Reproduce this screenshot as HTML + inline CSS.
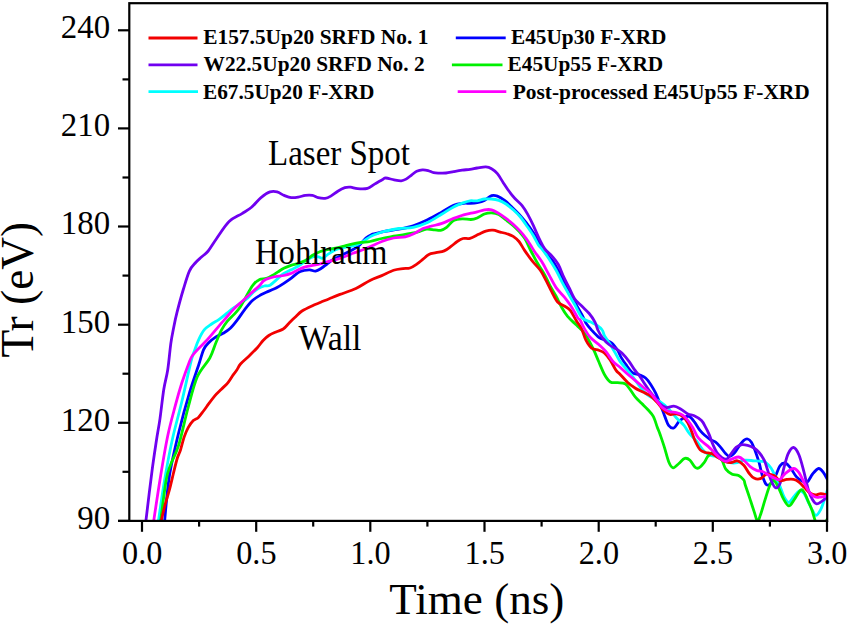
<!DOCTYPE html>
<html><head><meta charset="utf-8"><style>
html,body{margin:0;padding:0;background:#fff;}
body{width:849px;height:625px;overflow:hidden;}
svg{display:block;}
</style></head><body>
<svg width="849" height="625" viewBox="0 0 849 625">
<defs><clipPath id="c"><rect x="129.3" y="3.2" width="697.9" height="517.7"/></clipPath></defs>
<rect width="849" height="625" fill="#fff"/>
<g clip-path="url(#c)" fill="none" stroke-width="2.8" stroke-linejoin="round" stroke-linecap="round">
<path d="M163.0,536.0 C163.3,533.5 163.6,530.9 164.6,521.0 C165.6,511.1 167.0,491.3 169.3,476.6 C171.6,461.9 175.2,447.0 178.6,433.0 C182.0,419.0 186.2,403.8 189.6,392.4 C193.0,380.9 196.6,371.4 198.9,364.3 C201.2,357.2 202.0,353.2 203.6,349.6 C205.2,346.0 206.6,344.8 208.7,342.7 C210.8,340.6 213.5,338.5 215.9,336.9 C218.3,335.3 220.7,334.7 223.1,333.3 C225.5,331.9 227.9,330.6 230.3,328.3 C232.7,326.0 235.1,322.8 237.5,319.7 C239.9,316.6 242.3,312.7 244.7,309.6 C247.1,306.5 249.5,303.3 251.9,301.0 C254.3,298.7 256.7,297.3 259.1,295.9 C261.5,294.4 264.2,293.3 266.3,292.3 C268.4,291.3 270.3,290.6 272.0,289.8 C273.7,289.1 274.6,288.9 276.6,287.8 C278.6,286.7 281.4,285.0 283.8,283.4 C286.2,281.8 288.6,280.2 291.0,278.4 C293.4,276.6 296.0,273.9 298.2,272.6 C300.4,271.3 302.1,271.0 304.0,270.5 C305.9,270.0 307.9,269.7 309.8,269.8 C311.7,269.9 313.6,271.4 315.5,271.2 C317.4,270.9 319.4,269.5 321.3,268.3 C323.2,267.1 325.1,265.4 327.0,264.0 C328.9,262.6 330.4,261.1 332.8,259.7 C335.2,258.2 338.6,256.8 341.5,255.3 C344.4,253.9 347.2,252.6 350.1,251.0 C353.0,249.4 356.1,248.2 358.7,246.0 C361.3,243.8 363.7,239.9 365.9,238.0 C368.1,236.1 370.2,235.2 371.7,234.5 C373.2,233.8 372.9,234.2 375.0,233.7 C377.1,233.2 380.4,232.2 384.4,231.4 C388.4,230.7 394.0,230.1 398.8,229.2 C403.6,228.3 408.4,227.4 413.2,225.8 C418.0,224.2 422.8,222.1 427.6,219.8 C432.4,217.5 437.7,214.4 442.0,212.0 C446.3,209.6 450.0,206.8 453.6,205.4 C457.2,204.0 461.0,203.7 463.7,203.3 C466.4,203.0 467.8,203.4 470.0,203.3 C472.2,203.2 474.8,203.1 477.2,202.6 C479.6,202.1 482.0,201.6 484.4,200.4 C486.8,199.2 489.4,196.3 491.6,195.6 C493.8,194.9 495.2,195.3 497.4,196.1 C499.6,196.9 502.2,198.6 504.6,200.4 C507.0,202.2 509.4,204.6 511.8,206.9 C514.2,209.2 516.6,211.5 519.0,214.1 C521.4,216.7 523.8,219.6 526.2,222.7 C528.6,225.8 531.4,229.9 533.4,232.8 C535.4,235.7 536.2,236.9 538.1,240.0 C540.0,243.1 542.1,247.9 544.6,251.5 C547.1,255.1 550.8,258.2 553.2,261.6 C555.6,265.0 557.1,268.1 559.0,271.7 C560.9,275.3 562.9,279.3 564.8,283.2 C566.7,287.1 568.6,291.2 570.5,294.8 C572.4,298.4 574.4,301.5 576.3,304.8 C578.2,308.1 580.4,311.9 582.0,314.9 C583.6,317.9 584.3,320.4 585.9,322.9 C587.5,325.4 589.5,327.7 591.6,330.1 C593.8,332.5 596.4,335.6 598.8,337.3 C601.2,339.0 603.8,339.2 606.0,340.2 C608.2,341.1 609.9,341.3 611.8,343.0 C613.7,344.7 616.0,347.9 617.6,350.3 C619.2,352.7 619.8,355.1 621.3,357.6 C622.8,360.1 624.5,362.6 626.4,365.2 C628.3,367.8 630.7,371.3 632.8,372.9 C634.9,374.5 637.1,373.9 639.2,374.8 C641.3,375.7 643.7,376.4 645.6,378.0 C647.5,379.6 649.0,381.8 650.7,384.4 C652.4,387.0 654.1,389.8 655.8,393.4 C657.5,397.0 659.5,402.4 661.0,406.2 C662.5,410.0 663.5,413.2 664.8,416.4 C666.1,419.6 667.1,423.5 668.6,425.4 C670.1,427.3 672.1,428.6 673.8,428.0 C675.5,427.4 677.2,423.3 678.9,421.6 C680.6,419.9 682.3,418.6 684.0,417.7 C685.7,416.8 687.4,415.8 689.1,416.4 C690.8,417.0 692.4,419.2 694.2,421.6 C696.1,424.0 698.3,428.3 700.2,430.7 C702.1,433.1 703.7,434.3 705.4,435.8 C707.1,437.3 708.8,438.6 710.5,439.7 C712.2,440.8 713.9,440.9 715.6,442.2 C717.3,443.5 719.0,445.5 720.7,447.4 C722.4,449.3 724.3,452.3 725.8,453.8 C727.3,455.3 728.2,456.5 729.7,456.3 C731.2,456.1 733.1,454.4 734.8,452.5 C736.5,450.6 738.4,446.8 739.9,444.8 C741.4,442.8 742.5,441.3 743.8,440.3 C745.1,439.3 746.3,438.7 747.6,439.0 C748.9,439.3 750.1,440.2 751.4,442.2 C752.7,444.2 754.0,447.8 755.3,451.2 C756.6,454.6 757.9,458.6 759.1,462.7 C760.3,466.8 761.1,471.8 762.3,475.5 C763.5,479.2 765.0,483.4 766.5,484.7 C768.0,486.0 769.5,484.7 771.0,483.2 C772.5,481.7 774.1,478.5 775.6,475.6 C777.1,472.7 778.4,467.9 780.0,465.8 C781.6,463.7 783.6,462.7 785.4,463.1 C787.2,463.6 789.1,466.2 790.9,468.5 C792.7,470.8 794.5,474.6 796.3,476.7 C798.1,478.8 799.9,479.9 801.7,480.8 C803.5,481.7 805.4,483.2 807.2,482.1 C809.0,481.0 810.7,476.3 812.6,474.0 C814.5,471.7 816.9,468.7 818.7,468.5 C820.5,468.3 822.1,470.8 823.5,472.6 C824.9,474.4 826.7,478.3 827.3,479.4" stroke="#0000FF"/>
<path d="M156.1,536.0 C156.5,533.5 157.0,530.3 158.4,521.0 C159.8,511.7 162.3,493.6 164.6,480.0 C166.9,466.4 169.5,452.2 172.4,439.2 C175.3,426.2 178.7,414.8 181.8,401.8 C184.9,388.8 189.0,369.6 191.1,361.2 C193.2,352.8 193.1,354.9 194.3,351.3 C195.6,347.7 196.9,343.4 198.6,339.8 C200.3,336.2 202.2,332.3 204.4,329.7 C206.6,327.1 209.2,325.7 211.6,324.0 C214.0,322.3 216.4,321.4 218.8,319.7 C221.2,318.0 223.6,315.8 226.0,313.9 C228.4,312.0 230.8,310.0 233.2,308.2 C235.6,306.4 238.0,304.8 240.4,303.1 C242.8,301.4 245.4,299.9 247.6,298.1 C249.8,296.3 251.4,294.0 253.3,292.3 C255.2,290.6 257.2,289.1 259.1,288.0 C261.0,286.9 263.0,286.4 264.8,285.9 C266.6,285.4 267.8,286.4 270.0,285.2 C272.2,283.9 275.7,280.4 278.0,278.4 C280.3,276.4 281.6,274.8 283.8,273.4 C286.0,272.0 288.6,271.0 291.0,269.8 C293.4,268.6 295.8,267.6 298.2,266.2 C300.6,264.8 303.0,262.7 305.4,261.1 C307.8,259.5 310.4,257.5 312.6,256.8 C314.8,256.1 316.7,256.6 318.4,256.8 C320.1,257.0 321.0,258.7 322.7,258.2 C324.4,257.7 326.3,255.3 328.5,253.9 C330.7,252.5 333.1,250.7 335.7,249.6 C338.3,248.5 341.4,248.0 344.3,247.4 C347.2,246.8 350.1,246.8 353.0,246.0 C355.9,245.2 358.7,244.0 361.6,242.4 C364.5,240.8 368.1,237.9 370.3,236.6 C372.5,235.3 372.6,235.4 375.0,234.5 C377.4,233.6 380.4,232.4 384.4,231.4 C388.4,230.4 394.0,229.2 398.8,228.5 C403.6,227.8 408.4,228.3 413.2,227.3 C418.0,226.3 422.8,224.7 427.6,222.5 C432.4,220.3 437.7,216.6 442.0,214.0 C446.3,211.4 450.0,208.8 453.6,206.9 C457.2,205.0 461.0,203.6 463.7,202.6 C466.4,201.6 467.8,201.1 470.0,200.8 C472.2,200.5 474.8,201.1 477.2,200.8 C479.6,200.5 482.0,199.3 484.4,199.0 C486.8,198.7 489.2,198.8 491.6,199.0 C494.0,199.2 496.4,199.6 498.8,200.4 C501.2,201.2 503.6,202.4 506.0,204.0 C508.4,205.6 510.8,207.6 513.2,209.8 C515.6,212.0 518.0,214.1 520.4,217.0 C522.8,219.9 525.4,223.9 527.6,227.0 C529.8,230.1 531.6,232.7 533.4,235.7 C535.2,238.7 537.0,242.8 538.4,245.0 C539.8,247.2 540.0,246.3 541.7,248.6 C543.5,250.9 546.5,255.1 548.9,258.7 C551.3,262.3 553.9,266.4 556.1,270.3 C558.3,274.2 559.7,277.7 561.9,281.8 C564.1,285.9 567.0,291.0 569.1,294.8 C571.2,298.6 572.6,301.0 574.8,304.8 C576.9,308.6 579.4,314.9 582.0,317.8 C584.6,320.7 588.3,320.9 590.7,322.1 C593.1,323.3 594.6,323.7 596.5,325.0 C598.4,326.3 600.9,328.2 602.2,330.0 C603.6,331.8 603.2,333.5 604.6,335.9 C606.0,338.3 608.4,341.4 610.3,344.5 C612.2,347.6 614.5,351.8 616.1,354.6 C617.7,357.4 618.3,359.0 620.0,361.4 C621.7,363.8 624.3,366.5 626.4,369.1 C628.5,371.7 630.7,374.0 632.8,376.8 C634.9,379.6 637.1,382.9 639.2,385.7 C641.3,388.5 643.2,391.3 645.6,393.4 C648.0,395.5 650.7,397.0 653.3,398.5 C655.9,400.0 658.5,400.7 661.0,402.4 C663.5,404.1 666.1,406.2 668.6,408.8 C671.1,411.4 673.7,414.9 676.3,417.7 C678.9,420.5 681.9,422.8 684.0,425.4 C686.1,428.0 687.0,430.5 689.1,433.1 C691.2,435.7 694.1,438.2 696.4,441.0 C698.7,443.8 700.7,447.6 702.8,449.9 C704.9,452.2 707.1,453.9 709.2,455.0 C711.3,456.1 713.2,455.4 715.6,456.3 C718.0,457.2 720.9,459.1 723.3,460.2 C725.6,461.3 727.4,462.3 729.7,462.7 C732.1,463.1 734.9,463.1 737.4,462.7 C739.9,462.3 742.2,460.5 745.0,460.2 C747.8,459.9 751.2,460.6 754.0,460.8 C756.8,461.0 759.9,461.2 761.7,461.4 C763.5,461.6 763.5,460.8 765.0,461.9 C766.5,463.0 769.2,465.5 771.0,468.0 C772.8,470.5 774.1,474.1 775.6,477.1 C777.1,480.1 778.6,482.9 780.0,486.2 C781.4,489.5 782.6,494.3 784.1,497.0 C785.6,499.7 787.2,502.5 788.8,502.5 C790.4,502.5 791.9,498.9 793.6,497.0 C795.3,495.1 797.3,491.7 799.0,491.0 C800.7,490.3 802.2,491.1 803.8,493.0 C805.4,494.9 807.0,499.6 808.5,502.5 C810.0,505.4 811.4,508.6 812.6,510.7 C813.9,512.9 814.6,515.6 816.0,515.4 C817.4,515.2 819.3,512.1 820.8,509.3 C822.3,506.5 823.7,501.6 824.8,498.4 C825.9,495.2 826.9,491.6 827.3,490.3" stroke="#00FFFF"/>
<path d="M158.6,536.0 C158.9,533.5 159.3,530.3 160.6,521.0 C161.9,511.7 164.5,489.5 166.2,480.0 C167.9,470.5 168.7,470.0 170.8,464.2 C172.9,458.4 175.7,454.8 178.6,445.4 C181.5,436.0 184.9,419.4 188.0,408.0 C191.1,396.6 193.7,385.1 197.3,376.8 C200.9,368.5 206.7,363.7 209.8,358.0 C212.9,352.3 213.9,347.4 215.9,342.7 C217.9,338.0 219.8,333.3 221.7,329.7 C223.6,326.1 225.2,323.7 227.4,321.1 C229.6,318.5 232.4,316.3 234.6,313.9 C236.8,311.5 238.5,309.6 240.4,306.7 C242.3,303.8 244.2,300.0 246.1,296.7 C248.0,293.4 250.4,288.9 251.9,286.6 C253.4,284.3 254.1,283.7 255.0,282.7 C255.9,281.7 256.6,281.4 257.6,280.8 C258.6,280.2 259.3,279.5 260.8,279.1 C262.3,278.7 264.6,279.0 266.5,278.4 C268.4,277.8 270.4,276.6 272.3,275.5 C274.2,274.4 276.1,273.1 278.0,271.9 C279.9,270.7 281.6,269.4 283.8,268.3 C286.0,267.2 288.6,266.2 291.0,265.4 C293.4,264.6 295.8,264.1 298.2,263.3 C300.6,262.5 303.0,261.7 305.4,260.4 C307.8,259.1 310.2,256.8 312.6,255.3 C315.0,253.9 317.4,252.6 319.8,251.7 C322.2,250.8 324.4,250.2 327.0,249.6 C329.6,249.0 332.8,248.7 335.7,248.1 C338.6,247.5 341.4,246.7 344.3,246.0 C347.2,245.3 350.1,244.4 353.0,243.8 C355.9,243.2 358.8,242.8 361.6,242.4 C364.4,242.0 366.6,242.2 370.0,241.5 C373.4,240.8 377.9,239.4 381.8,238.5 C385.7,237.6 389.7,236.9 393.6,236.2 C397.5,235.5 401.4,235.1 405.3,234.4 C409.2,233.7 413.6,233.0 417.1,232.1 C420.6,231.2 423.6,229.5 426.5,229.1 C429.4,228.7 432.4,229.7 434.8,229.9 C437.2,230.1 438.7,230.7 440.7,230.3 C442.7,229.9 444.5,229.0 446.6,227.4 C448.8,225.8 451.0,222.0 453.6,220.6 C456.2,219.2 459.3,219.0 462.2,218.8 C465.1,218.6 468.4,219.6 470.9,219.5 C473.4,219.4 474.9,218.9 477.2,218.0 C479.4,217.1 482.0,214.9 484.4,214.0 C486.8,213.1 489.2,212.7 491.6,212.8 C494.0,212.9 496.4,213.3 498.8,214.5 C501.2,215.7 503.6,218.2 506.0,220.0 C508.4,221.8 511.0,223.7 513.2,225.6 C515.4,227.5 517.1,229.2 519.0,231.3 C520.9,233.5 522.9,235.5 524.8,238.5 C526.7,241.5 528.1,245.4 530.2,249.5 C532.3,253.6 535.0,258.8 537.4,263.0 C539.8,267.2 542.5,270.8 544.6,274.6 C546.8,278.5 548.4,282.5 550.3,286.1 C552.2,289.7 554.2,292.6 556.1,296.2 C558.0,299.8 560.0,304.3 561.9,307.7 C563.8,311.1 565.5,313.8 567.6,316.4 C569.8,319.0 573.2,322.0 574.8,323.6 C576.4,325.2 575.6,324.2 577.2,325.8 C578.8,327.4 582.2,330.1 584.4,333.0 C586.6,335.9 588.5,339.9 590.2,343.0 C591.9,346.1 593.1,348.6 594.5,351.7 C595.9,354.8 597.1,357.9 598.8,361.8 C600.5,365.7 602.7,371.4 604.6,374.8 C606.5,378.2 608.1,380.7 610.3,382.0 C612.5,383.3 615.1,382.4 617.6,382.7 C620.1,383.0 623.0,382.6 625.1,383.8 C627.2,385.0 628.5,387.4 630.2,389.6 C631.9,391.8 633.5,394.9 635.4,397.2 C637.3,399.5 639.7,401.5 641.8,403.6 C643.9,405.7 646.3,407.9 648.2,410.0 C650.1,412.1 651.8,413.6 653.3,416.4 C654.8,419.2 656.0,423.6 657.1,426.7 C658.2,429.8 659.0,431.2 660.2,434.7 C661.4,438.2 663.1,443.1 664.5,447.6 C665.9,452.2 667.4,458.6 668.8,462.0 C670.2,465.4 671.4,467.6 673.1,467.8 C674.8,468.1 677.0,465.1 678.9,463.5 C680.8,461.9 682.9,458.9 684.7,458.4 C686.6,457.8 688.3,458.7 690.0,460.2 C691.7,461.7 693.6,465.9 695.1,467.2 C696.6,468.5 697.5,468.6 699.0,467.8 C700.5,467.1 702.6,464.6 704.1,462.7 C705.6,460.8 706.4,458.0 707.9,456.3 C709.4,454.6 711.3,452.7 713.0,452.5 C714.7,452.3 716.7,453.7 718.2,455.0 C719.7,456.3 720.7,457.8 722.0,460.2 C723.3,462.6 724.1,466.8 725.8,469.1 C727.5,471.4 730.1,473.1 732.2,474.2 C734.3,475.3 736.7,474.5 738.6,475.5 C740.5,476.5 742.7,478.5 743.8,480.0 C744.9,481.5 744.2,481.6 745.2,484.7 C746.2,487.8 748.3,493.8 749.8,498.4 C751.3,503.0 753.0,508.3 754.3,512.1 C755.6,515.9 756.4,520.5 757.4,521.0 C758.4,521.5 759.1,518.6 760.4,515.1 C761.7,511.6 763.5,504.7 765.0,499.9 C766.5,495.1 768.1,489.5 769.5,486.2 C770.9,482.9 772.0,479.9 773.5,480.2 C775.0,480.5 777.0,484.8 778.6,487.8 C780.2,490.8 781.5,495.4 783.2,498.4 C784.9,501.4 787.0,505.6 788.8,505.9 C790.6,506.2 792.1,502.6 794.0,500.0 C795.9,497.4 798.7,491.6 800.4,490.3 C802.1,489.0 802.6,490.1 804.0,492.0 C805.4,493.9 807.1,498.9 808.5,502.0 C809.9,505.1 811.0,507.3 812.1,510.5 C813.2,513.7 814.3,518.2 815.3,521.0 C816.3,523.8 816.9,525.8 818.0,527.0 C819.1,528.2 820.5,529.3 822.0,528.0 C823.5,526.7 826.4,520.5 827.3,519.0" stroke="#00F000"/>
<path d="M144.1,536.0 C144.4,533.5 144.6,532.0 145.9,521.0 C147.2,510.1 150.3,483.8 152.1,470.3 C153.9,456.8 155.2,448.6 156.5,440.0 C157.8,431.4 158.8,427.1 160.0,418.6 C161.2,410.1 162.5,397.3 163.8,389.2 C165.1,381.1 166.5,377.6 167.7,370.0 C168.9,362.4 169.8,350.8 170.8,343.6 C171.8,336.4 172.8,332.2 173.8,327.0 C174.8,321.8 175.4,318.6 177.0,312.4 C178.6,306.1 181.2,296.4 183.3,289.5 C185.4,282.6 187.4,275.3 189.5,270.8 C191.6,266.3 193.7,264.8 195.7,262.5 C197.7,260.2 199.4,258.9 201.5,257.0 C203.6,255.1 205.7,254.0 208.2,251.0 C210.7,248.0 212.8,243.9 216.3,239.0 C219.8,234.1 224.8,225.8 229.1,221.6 C233.4,217.4 238.3,216.0 242.0,213.6 C245.7,211.2 248.3,209.9 251.5,207.2 C254.7,204.5 257.9,200.1 261.0,197.6 C264.1,195.1 267.3,192.8 270.0,191.9 C272.7,191.0 274.8,191.3 277.1,191.9 C279.5,192.5 281.8,194.5 284.1,195.4 C286.5,196.3 288.8,197.3 291.2,197.6 C293.6,197.9 295.9,197.5 298.3,197.1 C300.7,196.7 303.0,195.7 305.3,195.4 C307.6,195.1 310.3,195.0 312.4,195.4 C314.5,195.8 316.0,197.1 318.1,197.6 C320.2,198.1 323.0,198.6 325.1,198.3 C327.2,198.1 328.7,197.3 330.8,196.1 C332.9,194.9 335.5,192.6 337.8,191.2 C340.1,189.8 342.8,188.4 344.9,187.7 C347.0,187.0 348.5,187.0 350.6,187.2 C352.7,187.4 354.8,188.5 357.6,188.7 C360.4,188.9 364.7,189.2 367.5,188.4 C370.3,187.6 372.0,185.6 374.6,184.1 C377.2,182.6 381.2,180.2 383.1,179.2 C385.0,178.2 384.0,177.9 385.8,178.0 C387.6,178.1 391.5,179.3 394.1,179.8 C396.7,180.3 399.2,180.9 401.2,180.8 C403.2,180.7 404.3,180.1 406.1,179.1 C407.9,178.1 410.0,176.1 411.8,174.8 C413.6,173.5 414.9,172.1 416.7,171.3 C418.5,170.5 420.5,170.0 422.4,169.9 C424.3,169.8 426.2,170.1 428.1,170.6 C430.0,171.1 431.7,172.3 433.7,172.7 C435.7,173.1 437.9,173.0 440.0,173.1 C442.1,173.2 443.7,173.2 446.0,173.0 C448.3,172.8 450.9,172.1 453.6,171.6 C456.3,171.1 459.5,170.5 462.2,170.1 C464.9,169.7 467.5,169.8 470.0,169.4 C472.5,169.1 474.6,168.4 477.2,168.0 C479.8,167.6 483.4,166.7 485.8,166.8 C488.2,166.9 489.7,167.5 491.6,168.7 C493.5,169.8 495.5,171.4 497.4,173.7 C499.3,176.0 501.2,179.5 503.1,182.4 C505.0,185.3 507.0,188.4 508.9,191.0 C510.8,193.6 512.5,195.8 514.7,198.2 C516.9,200.6 519.8,202.8 521.9,205.4 C524.0,208.1 525.7,210.7 527.6,214.1 C529.5,217.5 531.5,221.5 533.4,225.6 C535.3,229.7 537.3,234.8 539.2,238.6 C541.1,242.4 542.5,245.7 544.6,248.6 C546.7,251.5 549.5,253.2 551.8,255.9 C554.1,258.6 556.4,261.1 558.3,264.5 C560.2,267.9 561.5,272.1 563.3,276.0 C565.1,279.9 567.2,283.8 569.1,287.6 C571.0,291.5 572.6,296.0 574.8,299.1 C576.9,302.2 579.6,303.9 582.0,306.3 C584.4,308.7 587.0,310.9 589.2,313.5 C591.4,316.1 593.5,319.4 595.0,322.1 C596.5,324.9 596.5,327.2 597.9,330.0 C599.2,332.8 601.3,336.3 603.1,338.7 C604.9,341.1 606.7,342.8 608.9,344.5 C611.1,346.2 613.9,347.4 616.1,348.8 C618.3,350.2 619.8,351.0 621.9,353.1 C624.0,355.2 627.0,358.7 629.0,361.4 C631.0,364.1 632.4,366.8 634.1,369.1 C635.8,371.5 637.5,373.1 639.2,375.5 C640.9,377.9 642.6,380.6 644.3,383.2 C646.0,385.8 647.7,388.5 649.4,390.8 C651.1,393.1 652.9,395.1 654.6,397.2 C656.3,399.3 657.8,401.9 659.7,403.6 C661.6,405.3 663.8,407.1 666.1,407.5 C668.5,407.9 671.4,406.0 673.8,406.2 C676.1,406.4 677.9,407.5 680.2,408.8 C682.5,410.1 685.5,412.7 687.8,413.9 C690.1,415.1 691.9,414.7 694.2,415.8 C696.5,416.9 699.6,418.6 701.5,420.5 C703.4,422.4 704.1,424.5 705.4,426.9 C706.7,429.2 707.9,431.6 709.2,434.6 C710.5,437.6 711.7,441.8 713.0,444.8 C714.3,447.8 715.4,450.4 716.9,452.5 C718.4,454.6 720.3,456.5 722.0,457.6 C723.7,458.7 725.6,459.5 727.1,458.9 C728.6,458.3 729.5,455.7 731.0,453.8 C732.5,451.9 734.4,448.9 736.1,447.4 C737.8,445.9 739.3,445.1 741.2,444.8 C743.1,444.5 745.5,444.9 747.6,445.4 C749.7,445.9 752.1,446.8 754.0,448.0 C755.9,449.2 757.4,450.5 759.1,452.5 C760.8,454.5 762.7,457.0 764.2,460.2 C765.7,463.4 767.0,468.4 768.1,471.7 C769.2,475.0 769.8,477.5 771.0,480.2 C772.2,482.9 774.1,487.2 775.6,487.8 C777.1,488.4 778.6,486.9 780.0,483.5 C781.4,480.1 782.7,472.2 784.1,467.2 C785.5,462.2 786.6,456.9 788.2,453.6 C789.8,450.3 791.8,447.3 793.6,447.5 C795.4,447.7 797.3,451.0 799.0,455.0 C800.7,459.0 802.2,465.4 803.8,471.3 C805.4,477.2 807.0,485.6 808.5,490.3 C810.0,495.1 811.2,497.5 812.6,499.8 C814.0,502.1 815.1,503.7 816.7,503.9 C818.3,504.1 820.3,502.2 822.1,501.1 C823.9,500.0 826.4,497.7 827.3,497.0" stroke="#7000F0"/>
<path d="M157.6,536.0 C158.2,533.5 160.0,526.2 161.2,521.0 C162.4,515.8 163.6,510.2 165.0,505.0 C166.4,499.8 168.0,495.3 169.4,490.0 C170.8,484.7 172.2,478.4 173.5,473.0 C174.8,467.6 176.3,461.3 177.5,457.5 C178.7,453.7 179.4,453.5 180.5,450.0 C181.6,446.5 183.0,440.3 184.3,436.6 C185.6,432.9 186.7,430.3 188.2,427.6 C189.7,424.9 191.6,422.3 193.3,420.6 C195.0,418.9 196.7,419.0 198.4,417.4 C200.1,415.8 201.8,413.2 203.5,411.0 C205.2,408.8 206.7,406.5 208.6,403.9 C210.5,401.3 212.9,398.1 215.0,395.6 C217.1,393.2 219.3,391.3 221.4,389.2 C223.5,387.1 225.9,385.1 227.8,382.8 C229.7,380.5 231.5,377.2 233.0,375.1 C234.5,373.0 235.6,371.9 236.8,370.0 C238.1,368.1 238.5,366.3 240.5,364.0 C242.5,361.7 245.8,359.1 248.6,356.4 C251.4,353.7 254.9,350.3 257.3,347.7 C259.7,345.1 261.2,342.5 263.1,340.5 C265.0,338.5 266.7,336.9 268.8,335.5 C270.9,334.1 273.6,333.0 276.0,331.9 C278.4,330.8 281.0,330.4 283.2,329.0 C285.4,327.6 287.1,325.1 289.0,323.2 C290.9,321.3 292.6,319.5 294.8,317.5 C297.0,315.5 299.1,312.9 302.0,311.0 C304.9,309.1 308.9,307.3 312.0,305.9 C315.1,304.4 317.8,303.5 320.7,302.3 C323.6,301.1 326.1,300.0 329.3,298.7 C332.5,297.4 335.6,296.1 340.0,294.4 C344.4,292.7 350.9,290.8 355.9,288.5 C360.9,286.2 365.7,282.5 370.0,280.4 C374.3,278.2 377.9,277.3 381.8,275.6 C385.7,273.9 390.1,271.5 393.6,270.3 C397.1,269.1 400.3,269.0 403.0,268.6 C405.7,268.2 407.6,268.8 410.0,268.0 C412.4,267.2 414.9,265.4 417.1,263.9 C419.3,262.4 421.0,260.8 423.0,259.2 C425.0,257.6 426.7,255.5 428.9,254.4 C431.1,253.3 433.4,253.3 436.0,252.7 C438.6,252.1 441.6,252.0 444.2,250.9 C446.8,249.8 449.1,247.8 451.3,246.2 C453.5,244.6 455.2,242.8 457.2,241.5 C459.1,240.2 460.9,239.0 463.0,238.5 C465.1,238.0 467.4,239.0 470.0,238.3 C472.6,237.6 476.0,235.5 478.6,234.3 C481.2,233.1 483.4,231.8 485.8,231.1 C488.2,230.4 490.6,230.0 493.0,230.2 C495.4,230.4 497.9,231.5 500.3,232.1 C502.7,232.7 505.4,233.3 507.5,234.0 C509.6,234.7 511.3,235.2 513.2,236.4 C515.1,237.7 517.1,239.2 519.0,241.5 C520.9,243.8 522.3,247.0 524.4,250.1 C526.5,253.2 529.0,256.8 531.6,260.2 C534.2,263.6 537.9,266.9 540.3,270.3 C542.7,273.7 544.1,276.7 546.0,280.3 C547.9,283.9 549.9,288.3 551.8,291.9 C553.7,295.5 555.4,299.6 557.6,302.0 C559.8,304.4 562.6,304.9 564.8,306.3 C566.9,307.7 568.6,308.2 570.5,310.6 C572.4,313.0 574.5,317.7 576.3,320.7 C578.1,323.7 579.9,325.4 581.5,328.6 C583.1,331.9 584.2,336.9 585.9,340.2 C587.6,343.4 589.5,346.4 591.6,348.1 C593.8,349.8 596.6,349.5 598.8,350.3 C601.0,351.1 602.7,351.4 604.6,353.1 C606.5,354.8 608.4,357.4 610.3,360.3 C612.2,363.2 614.5,368.1 616.1,370.4 C617.7,372.7 618.1,372.2 620.0,374.2 C621.9,376.2 625.1,380.1 627.7,382.5 C630.3,384.9 632.9,386.7 635.4,388.3 C637.9,389.9 640.5,390.8 643.0,392.1 C645.5,393.4 648.4,394.3 650.7,396.0 C653.1,397.7 655.0,400.1 657.1,402.4 C659.2,404.7 661.4,408.0 663.5,410.0 C665.6,412.0 667.8,413.9 669.9,414.5 C672.0,415.1 674.2,413.6 676.3,413.9 C678.4,414.2 680.8,414.9 682.7,416.4 C684.6,417.9 686.3,420.2 687.8,422.8 C689.3,425.4 690.5,428.8 691.7,431.8 C692.9,434.8 693.7,438.0 695.1,441.0 C696.5,444.0 698.5,448.0 700.2,449.9 C701.9,451.8 703.5,451.9 705.4,452.5 C707.3,453.1 709.7,452.9 711.8,453.8 C713.9,454.7 716.1,456.3 718.2,457.6 C720.3,458.9 722.5,460.5 724.6,461.4 C726.7,462.2 728.9,462.8 731.0,462.7 C733.1,462.6 735.3,460.4 737.4,460.8 C739.5,461.2 741.9,463.3 743.8,465.3 C745.7,467.3 747.2,470.9 748.9,473.0 C750.6,475.1 752.1,477.2 754.0,478.1 C755.9,479.1 758.3,479.4 760.4,478.7 C762.5,478.0 764.5,474.7 766.8,474.2 C769.1,473.7 771.9,474.5 774.1,475.6 C776.3,476.7 777.9,480.2 780.0,480.8 C782.1,481.4 784.5,479.6 786.8,479.4 C789.1,479.2 791.6,478.9 793.6,479.4 C795.6,479.8 797.2,480.7 799.0,482.1 C800.8,483.5 802.7,485.8 804.5,487.6 C806.3,489.4 808.1,491.8 809.9,493.0 C811.7,494.2 813.5,494.9 815.3,495.0 C817.1,495.1 818.8,493.7 820.8,493.7 C822.8,493.7 826.2,494.8 827.3,495.0" stroke="#F20000"/>
<path d="M151.4,536.0 C151.8,533.5 152.3,530.4 153.7,521.0 C155.1,511.6 157.7,493.9 160.0,479.7 C162.3,465.5 165.1,448.5 167.7,436.0 C170.3,423.5 173.2,413.7 175.5,404.9 C177.8,396.1 179.5,390.3 181.8,383.0 C184.2,375.7 187.8,365.9 189.6,361.2 C191.4,356.5 191.4,357.1 192.9,355.0 C194.4,352.9 196.2,351.0 198.6,348.5 C201.0,346.0 204.4,342.9 207.3,339.8 C210.2,336.7 213.0,333.1 215.9,329.7 C218.8,326.3 221.6,323.0 224.5,319.7 C227.4,316.4 230.3,312.6 233.2,309.6 C236.1,306.6 238.9,304.3 241.8,301.7 C244.7,299.1 247.5,296.4 250.4,293.8 C253.3,291.2 256.8,288.1 259.1,285.9 C261.4,283.7 262.2,281.8 264.0,280.5 C265.8,279.2 267.7,278.7 270.0,278.0 C272.3,277.3 275.7,276.6 278.0,276.2 C280.3,275.8 281.6,276.0 283.8,275.5 C286.0,275.0 288.6,274.3 291.0,273.4 C293.4,272.4 295.8,270.9 298.2,269.8 C300.6,268.7 303.0,267.6 305.4,266.9 C307.8,266.2 310.2,265.9 312.6,265.4 C315.0,264.9 317.4,264.6 319.8,264.0 C322.2,263.4 324.4,262.5 327.0,261.8 C329.6,261.1 332.8,260.5 335.7,259.7 C338.6,258.9 341.4,257.9 344.3,256.8 C347.2,255.7 350.1,254.3 353.0,253.2 C355.9,252.1 358.8,251.4 361.6,250.3 C364.4,249.2 366.6,248.3 370.0,246.8 C373.4,245.3 377.9,243.0 381.8,241.5 C385.7,240.0 389.7,238.8 393.6,238.0 C397.5,237.2 401.8,237.6 405.3,236.8 C408.8,236.0 411.9,234.6 414.8,233.2 C417.8,231.8 420.3,229.7 423.0,228.5 C425.7,227.3 428.0,227.0 431.2,226.2 C434.4,225.3 438.3,224.7 442.0,223.4 C445.7,222.1 450.0,219.8 453.6,218.4 C457.2,217.0 461.0,215.6 463.7,214.8 C466.4,214.0 467.8,213.9 470.0,213.4 C472.2,212.9 474.8,212.5 477.2,211.9 C479.6,211.3 482.0,210.2 484.4,209.8 C486.8,209.5 489.2,209.2 491.6,209.8 C494.0,210.4 496.4,212.0 498.8,213.4 C501.2,214.8 503.6,216.6 506.0,218.4 C508.4,220.2 510.8,222.0 513.2,224.2 C515.6,226.4 518.2,229.0 520.4,231.4 C522.6,233.8 524.5,236.3 526.2,238.6 C527.9,240.9 529.1,242.8 530.5,245.0 C531.9,247.2 532.6,248.7 534.5,251.5 C536.4,254.3 539.3,257.8 541.7,261.6 C544.1,265.5 546.5,270.3 548.9,274.6 C551.3,278.9 553.5,283.8 556.1,287.6 C558.8,291.4 562.1,294.2 564.8,297.6 C567.4,301.0 569.9,304.3 572.0,307.7 C574.1,311.1 576.4,315.8 577.7,317.8 C579.1,319.9 579.0,318.2 580.1,320.0 C581.2,321.8 582.7,325.7 584.4,328.6 C586.1,331.5 587.8,334.7 590.2,337.3 C592.6,339.9 596.2,342.1 598.8,344.5 C601.4,346.9 603.6,348.8 606.0,351.7 C608.4,354.6 610.9,359.2 613.2,361.8 C615.5,364.4 617.6,365.1 620.0,367.2 C622.4,369.3 625.1,372.0 627.7,374.2 C630.3,376.4 632.9,378.5 635.4,380.6 C637.9,382.7 640.5,384.9 643.0,387.0 C645.5,389.1 648.4,391.0 650.7,393.4 C653.1,395.8 655.2,398.8 657.1,401.1 C659.0,403.5 660.3,405.8 662.2,407.5 C664.1,409.2 666.2,410.4 668.6,411.3 C671.0,412.2 673.9,412.0 676.3,412.6 C678.6,413.2 680.8,413.9 682.7,415.2 C684.6,416.5 686.1,418.2 687.8,420.3 C689.5,422.4 691.5,425.4 693.0,428.0 C694.5,430.6 695.6,433.8 697.0,436.0 C698.4,438.2 699.7,439.3 701.5,441.0 C703.3,442.7 705.8,444.2 707.9,446.1 C710.0,448.0 712.2,450.4 714.3,452.5 C716.4,454.6 718.8,457.4 720.7,458.9 C722.6,460.4 723.9,461.4 725.8,461.4 C727.7,461.4 730.1,459.6 732.2,458.9 C734.3,458.2 736.7,456.8 738.6,457.0 C740.5,457.2 741.9,458.6 743.8,460.2 C745.7,461.8 748.1,464.9 750.2,466.6 C752.3,468.3 754.5,469.5 756.6,470.4 C758.7,471.2 761.1,471.0 763.0,471.7 C764.9,472.4 765.9,473.6 768.0,474.8 C770.1,476.0 773.6,477.8 775.6,478.6 C777.6,479.4 778.4,480.3 780.0,479.4 C781.6,478.5 783.1,475.1 785.4,473.3 C787.7,471.5 791.3,468.6 793.6,468.5 C795.9,468.4 797.2,470.1 799.0,472.6 C800.8,475.1 802.7,480.1 804.5,483.5 C806.3,486.9 808.1,490.8 809.9,493.0 C811.7,495.2 813.5,496.3 815.3,497.0 C817.1,497.7 818.8,497.2 820.8,497.0 C822.8,496.8 826.2,495.9 827.3,495.7" stroke="#FF00FF"/>
</g>
<g stroke="#000" stroke-width="2.2" fill="none">
<rect x="129.3" y="3.2" width="697.9" height="517.7"/>
<line x1="118" y1="520.9" x2="129.3" y2="520.9"/>
<line x1="118" y1="520.9" x2="129.3" y2="520.9"/>
<line x1="118" y1="422.8" x2="129.3" y2="422.8"/>
<line x1="118" y1="324.7" x2="129.3" y2="324.7"/>
<line x1="118" y1="226.5" x2="129.3" y2="226.5"/>
<line x1="118" y1="128.4" x2="129.3" y2="128.4"/>
<line x1="118" y1="30.3" x2="129.3" y2="30.3"/>
<line x1="122.5" y1="471.8" x2="129.3" y2="471.8"/>
<line x1="122.5" y1="373.7" x2="129.3" y2="373.7"/>
<line x1="122.5" y1="275.6" x2="129.3" y2="275.6"/>
<line x1="122.5" y1="177.5" x2="129.3" y2="177.5"/>
<line x1="122.5" y1="79.4" x2="129.3" y2="79.4"/>
<line x1="142.0" y1="520.9" x2="142.0" y2="531.8"/>
<line x1="256.2" y1="520.9" x2="256.2" y2="531.8"/>
<line x1="370.3" y1="520.9" x2="370.3" y2="531.8"/>
<line x1="484.5" y1="520.9" x2="484.5" y2="531.8"/>
<line x1="598.7" y1="520.9" x2="598.7" y2="531.8"/>
<line x1="712.8" y1="520.9" x2="712.8" y2="531.8"/>
<line x1="827.0" y1="520.9" x2="827.0" y2="531.8"/>
<line x1="199.1" y1="520.9" x2="199.1" y2="526.6"/>
<line x1="313.2" y1="520.9" x2="313.2" y2="526.6"/>
<line x1="427.4" y1="520.9" x2="427.4" y2="526.6"/>
<line x1="541.6" y1="520.9" x2="541.6" y2="526.6"/>
<line x1="655.7" y1="520.9" x2="655.7" y2="526.6"/>
<line x1="769.9" y1="520.9" x2="769.9" y2="526.6"/>
</g>
<g font-family="'Liberation Serif', serif" font-size="33.6" fill="#000">
<text x="110.1" y="528.8" text-anchor="end" textLength="32.9" lengthAdjust="spacingAndGlyphs">90</text>
<text x="110.1" y="430.7" text-anchor="end" textLength="49.3" lengthAdjust="spacingAndGlyphs">120</text>
<text x="110.1" y="332.6" text-anchor="end" textLength="49.3" lengthAdjust="spacingAndGlyphs">150</text>
<text x="110.1" y="234.4" text-anchor="end" textLength="49.3" lengthAdjust="spacingAndGlyphs">180</text>
<text x="110.1" y="136.3" text-anchor="end" textLength="49.3" lengthAdjust="spacingAndGlyphs">210</text>
<text x="110.1" y="38.2" text-anchor="end" textLength="49.3" lengthAdjust="spacingAndGlyphs">240</text>
<text x="142.2" y="563.9" text-anchor="middle" textLength="40.3" lengthAdjust="spacingAndGlyphs">0.0</text>
<text x="256.4" y="563.9" text-anchor="middle" textLength="40.3" lengthAdjust="spacingAndGlyphs">0.5</text>
<text x="370.5" y="563.9" text-anchor="middle" textLength="40.3" lengthAdjust="spacingAndGlyphs">1.0</text>
<text x="484.7" y="563.9" text-anchor="middle" textLength="40.3" lengthAdjust="spacingAndGlyphs">1.5</text>
<text x="598.9" y="563.9" text-anchor="middle" textLength="40.3" lengthAdjust="spacingAndGlyphs">2.0</text>
<text x="713.0" y="563.9" text-anchor="middle" textLength="40.3" lengthAdjust="spacingAndGlyphs">2.5</text>
<text x="827.2" y="563.9" text-anchor="middle" textLength="40.3" lengthAdjust="spacingAndGlyphs">3.0</text>
</g>
<g font-family="'Liberation Serif', serif" fill="#000">
<text x="389.3" y="613.8" font-size="45" textLength="175" lengthAdjust="spacingAndGlyphs">Time (ns)</text>
<text transform="translate(32.5,357.5) rotate(-90)" font-size="46" textLength="135.7" lengthAdjust="spacingAndGlyphs">Tr (eV)</text>
<text x="268" y="164.8" font-size="35" textLength="142" lengthAdjust="spacingAndGlyphs">Laser Spot</text>
<text x="255" y="263.6" font-size="35" textLength="132.5" lengthAdjust="spacingAndGlyphs">Hohlraum</text>
<text x="298.5" y="349.6" font-size="35" textLength="63" lengthAdjust="spacingAndGlyphs">Wall</text>
</g>
<g font-family="'Liberation Serif', serif" font-weight="bold" font-size="21.6" fill="#000" stroke-width="2.8" stroke-linecap="butt">
<line x1="148.5" y1="38.0" x2="197.5" y2="38.0" stroke="#F20000"/>
<text x="203.2" y="44.4" textLength="225.2" lengthAdjust="spacingAndGlyphs">E157.5Up20 SRFD No. 1</text>
<line x1="148.5" y1="64.8" x2="197.5" y2="64.8" stroke="#7000F0"/>
<text x="203.6" y="71.3" textLength="221.0" lengthAdjust="spacingAndGlyphs">W22.5Up20 SRFD No. 2</text>
<line x1="148.5" y1="91.7" x2="198.0" y2="91.7" stroke="#00FFFF"/>
<text x="203.0" y="98.6" textLength="171.4" lengthAdjust="spacingAndGlyphs">E67.5Up20 F-XRD</text>
<line x1="455.8" y1="37.8" x2="505.7" y2="37.8" stroke="#0000FF"/>
<text x="511.0" y="44.4" textLength="155.5" lengthAdjust="spacingAndGlyphs">E45Up30 F-XRD</text>
<line x1="451.9" y1="64.9" x2="502.5" y2="64.9" stroke="#00F000"/>
<text x="507.6" y="71.3" textLength="155.6" lengthAdjust="spacingAndGlyphs">E45Up55 F-XRD</text>
<line x1="457.7" y1="91.6" x2="506.3" y2="91.6" stroke="#FF00FF"/>
<text x="512.7" y="98.6" textLength="297.1" lengthAdjust="spacingAndGlyphs">Post-processed E45Up55 F-XRD</text>
</g>
</svg>
</body></html>
